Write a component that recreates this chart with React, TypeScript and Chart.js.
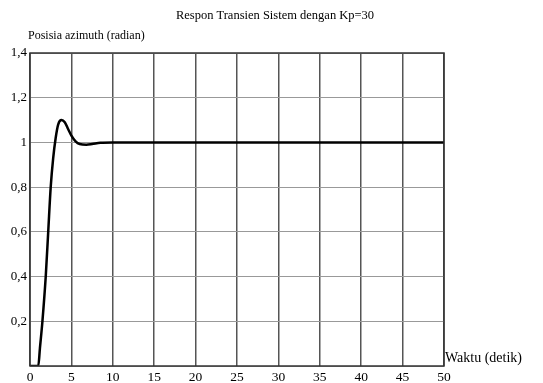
import React, { useEffect, useRef } from "react";
import { Chart, registerables } from "chart.js";

Chart.register(...registerables);

const timeValues = [0, 0.5, 1.0, 1.2, 1.5, 1.9, 2.2, 2.5, 2.8, 3.1, 3.4, 3.8, 4.2, 4.6, 5.0, 5.5, 6.0, 6.8, 7.5, 8.5, 10, 20, 30, 40, 50];
const responseValues = [0, 0, 0, 0.08, 0.2, 0.4, 0.6, 0.8, 0.93, 1.02, 1.08, 1.1, 1.09, 1.06, 1.03, 1.005, 0.993, 0.99, 0.993, 0.999, 1.0, 1.0, 1.0, 1.0, 1.0];
const yTickLabels: Record<string, string> = { "0.2": "0,2", "0.4": "0,4", "0.6": "0,6", "0.8": "0,8", "1": "1", "1.2": "1,2", "1.4": "1,4" };
const titleText = "Respon Transien Sistem dengan Kp=30";
const yTitleText = "Posisia azimuth (radian)";
const xTitleText = "Waktu (detik)";

const FONT = "'Liberation Serif', 'Times New Roman', serif";

export default function App() {
  const ref = useRef<HTMLCanvasElement | null>(null);
  useEffect(() => {
    if (!ref.current) return;
    const textPlugin = {
      id: "texts",
      afterDraw(chart: any) {
        const ctx = chart.ctx;
        const a = chart.chartArea;
        ctx.save();
        ctx.strokeStyle = "#333";
        ctx.lineWidth = 1.5;
        ctx.strokeRect(a.left, a.top, a.right - a.left, a.bottom - a.top);
        ctx.fillStyle = "#000";
        ctx.textBaseline = "middle";
        ctx.textAlign = "center";
        ctx.font = `12.5px ${FONT}`;
        ctx.fillText(titleText, 275, 16);
        ctx.textAlign = "left";
        ctx.font = `12px ${FONT}`;
        ctx.fillText(yTitleText, 28, 36);
        ctx.font = `14px ${FONT}`;
        ctx.fillText(xTitleText, 445, 358);
        ctx.restore();
      },
    };
    const chart = new Chart(ref.current, {
      type: "line",
      data: {
        datasets: [
          {
            data: timeValues.map((t, i) => ({ x: t, y: responseValues[i] })),
            borderColor: "#000",
            borderWidth: 2.5,
            pointRadius: 0,
            tension: 0.4,
            cubicInterpolationMode: "monotone",
            fill: false,
          },
        ],
      },
      options: {
        animation: false,
        responsive: false,
        maintainAspectRatio: false,
        layout: { padding: { left: 0, top: 53, right: 99, bottom: 0 } },
        plugins: { legend: { display: false }, tooltip: { enabled: false } },
        scales: {
          x: {
            type: "linear",
            min: 0,
            max: 50,
            afterFit: (s: any) => { s.height = 17; },
            ticks: { stepSize: 5, color: "#000", font: { family: FONT, size: 13.5 }, padding: 3, maxRotation: 0 },
            grid: { color: "#555", lineWidth: 1.5, drawTicks: false },
            border: { display: false },
          },
          y: {
            min: 0,
            max: 1.4,
            afterFit: (s: any) => { s.width = 30; },
            ticks: {
              stepSize: 0.2,
              color: "#000",
              font: { family: FONT, size: 13 },
              padding: 3,
              callback: (v: any) => {
                const k = String(Math.round(Number(v) * 10) / 10);
                return yTickLabels[k] ?? "";
              },
            },
            grid: { color: "#999", lineWidth: 1, drawTicks: false },
            border: { display: false },
          },
        },
      },
      plugins: [textPlugin],
    } as any);
    return () => chart.destroy();
  }, []);
  return (
    <div style={{ position: "fixed", left: 0, top: 0, width: 543, height: 383, background: "#fff" }}>
      <canvas ref={ref} width={543} height={383} style={{ width: 543, height: 383 }} />
    </div>
  );
}
